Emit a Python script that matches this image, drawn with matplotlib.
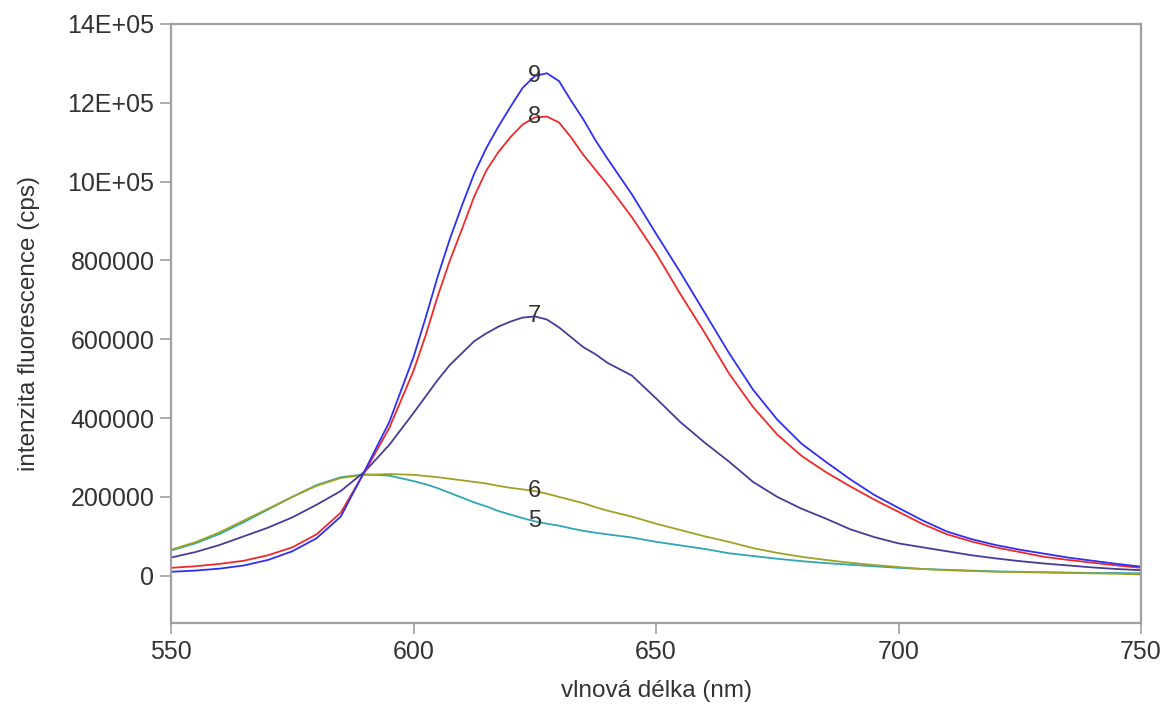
import matplotlib.pyplot as plt
import matplotlib.ticker as mticker

plt.rcParams['font.family'] = ['Liberation Sans', 'DejaVu Sans']

# wavelength grid (nm), denser around the emission maximum
wavelength = [550, 555, 560, 565, 570, 575, 580, 585, 590, 595,
              600, 602.5, 605, 607.5, 610, 612.5, 615, 617.5, 620, 622.5,
              625, 627.5, 630, 632.5, 635, 637.5, 640, 645, 650, 655,
              660, 665, 670, 675, 680, 685, 690, 695, 700, 705,
              710, 715, 720, 725, 730, 735, 740, 745, 750]

# fluorescence intensity (cps) for samples 5-9
s9 = [10000, 13000, 18000, 26000, 40000, 62000, 95000, 150000, 268000, 390000,
      555000, 655000, 760000, 855000, 940000, 1020000, 1085000, 1140000, 1190000, 1238000,
      1268000, 1275000, 1255000, 1205000, 1158000, 1105000, 1058000, 968000, 868000, 770000,
      668000, 566000, 472000, 396000, 335000, 289000, 245000, 205000, 172000, 140000,
      112000, 93000, 78000, 66000, 56000, 46000, 38000, 30000, 23000]

s8 = [20000, 24000, 30000, 38000, 52000, 72000, 105000, 160000, 265000, 375000,
      520000, 610000, 710000, 800000, 880000, 962000, 1028000, 1075000, 1113000, 1145000,
      1163000, 1165000, 1150000, 1112000, 1068000, 1030000, 992000, 910000, 818000, 715000,
      617000, 514000, 428000, 358000, 304000, 263000, 227000, 193000, 162000, 131000,
      105000, 87000, 72000, 60000, 48000, 40000, 33000, 26000, 20000]

s7 = [46000, 60000, 78000, 100000, 122000, 148000, 180000, 215000, 265000, 332000,
      413000, 455000, 497000, 535000, 565000, 595000, 615000, 632000, 645000, 655000,
      658000, 650000, 630000, 605000, 580000, 562000, 540000, 508000, 450000, 390000,
      338000, 290000, 238000, 200000, 170000, 145000, 118000, 98000, 82000, 72000,
      62000, 52000, 44000, 37000, 31000, 26000, 21000, 17000, 14000]

s6 = [66000, 85000, 110000, 140000, 170000, 200000, 228000, 248000, 256000, 258000,
      256000, 253000, 250000, 246000, 242000, 238000, 234000, 228000, 223000, 219000,
      215000, 208000, 200000, 192000, 184000, 174000, 165000, 150000, 132000, 116000,
      100000, 86000, 70000, 58000, 48000, 40000, 33000, 27000, 22000, 17000,
      14000, 12000, 10000, 9000, 8000, 7000, 6000, 5000, 3000]

s5 = [64000, 82000, 106000, 136000, 168000, 200000, 230000, 250000, 257000, 254000,
      240000, 232000, 222000, 210000, 198000, 186000, 176000, 164000, 155000, 146000,
      138000, 132000, 127000, 120000, 114000, 109000, 105000, 97000, 86000, 77000,
      68000, 57000, 50000, 43000, 37000, 32000, 28000, 24000, 20000, 17000,
      15000, 13000, 11000, 10000, 9000, 8000, 7000, 7000, 6000]

series = [("5", s5, '#2fa6b4'), ("6", s6, '#9ea324'), ("7", s7, '#463c98'),
          ("8", s8, '#ee2a2a'), ("9", s9, '#2f2ff2')]

LABEL_X = 625      # wavelength where the sample numbers sit on the curves

fig = plt.figure(figsize=(11.66, 7.05), dpi=100)
ax = fig.add_axes([0.1467, 0.1163, 0.8319, 0.8497])

for name, vals, col in series:
    ax.plot(wavelength, vals, color=col, lw=1.3)
    y_lab = vals[wavelength.index(LABEL_X)]
    ax.text(LABEL_X, y_lab, name, ha='center', va='center',
            fontsize=17, color='#333333')

ax.set_xlim(550, 750)
ax.set_ylim(-120000, 1400000)
ax.set_xticks([550, 600, 650, 700, 750])
ax.set_yticks([0, 200000, 400000, 600000, 800000, 1000000, 1200000, 1400000])

def ylab(v, pos):
    if v >= 1000000:
        return '%dE+05' % (v / 100000)
    return '%d' % v

ax.yaxis.set_major_formatter(mticker.FuncFormatter(ylab))

for sp in ax.spines.values():
    sp.set_color('#a0a0a0')
    sp.set_linewidth(1.6)
ax.tick_params(direction='out', length=8, width=1.2, color='#a0a0a0',
               labelsize=18, labelcolor='#333333', pad=4)

ax.set_xlabel('vlnová délka (nm)', fontsize=17.5, color='#333333', labelpad=12)
ax.set_ylabel('intenzita fluorescence (cps)', fontsize=17.5, color='#333333', labelpad=20)

fig.savefig('out.png', dpi=100)
